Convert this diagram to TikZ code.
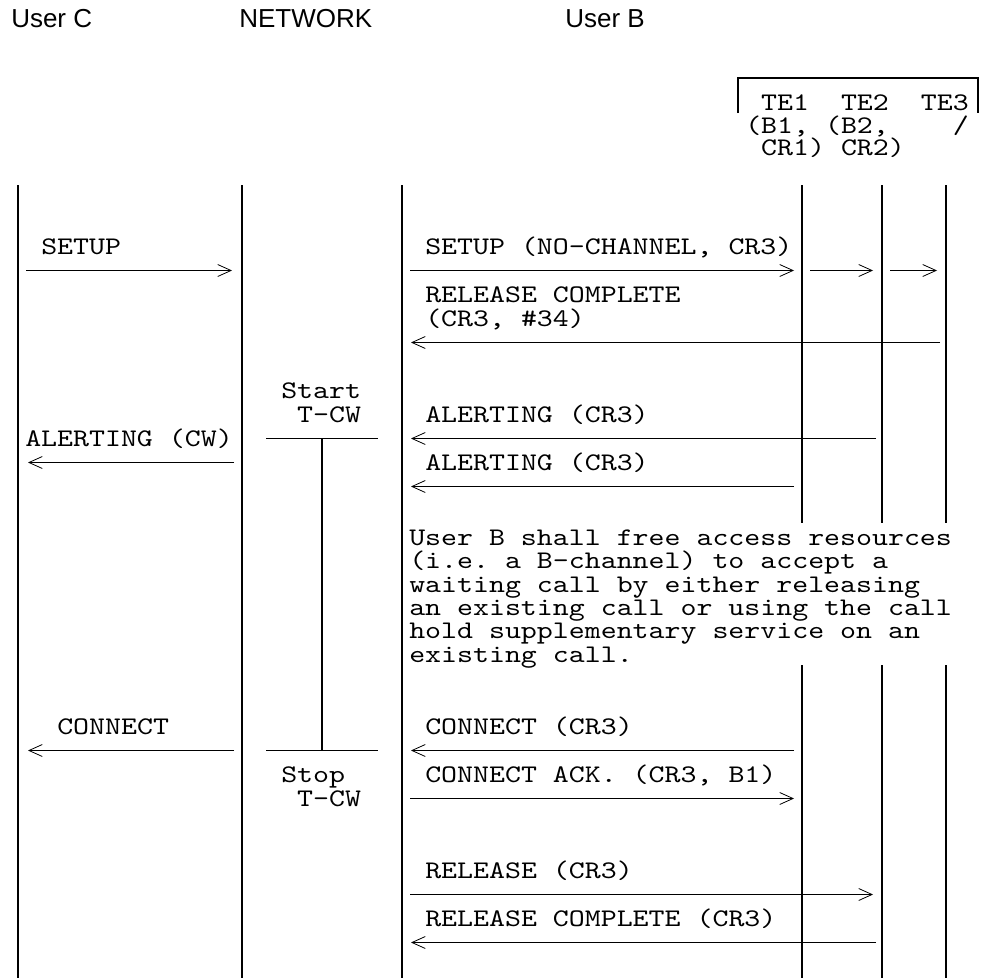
\documentclass[tikz,border=0pt]{standalone}
\usepackage{fontspec}
\setmainfont{Liberation Sans}
\setmonofont{lmmono10-regular.otf}[FakeStretch=1.2]
\usetikzlibrary{arrows.meta, calc}

\newcommand{\msgfont}{\ttfamily\fontsize{19}{18}\selectfont\frenchspacing\lineskiplimit=-100pt}
\newcommand{\gap}{\hphantom{x}}

\begin{document}
\begin{tikzpicture}[
    x=0.75pt, y=-0.75pt,
    life/.style={line width=1.2pt},
    msg/.style={line width=1.2pt, -{Straight Barb[length=10pt, width=9pt, line width=0.6pt]}},
    head/.style={font=\fontsize{19.5}{22}\selectfont, anchor=base west, inner sep=0pt},
    msgtext/.style={font=\msgfont, anchor=base west, inner sep=0pt, align=left, yshift=-5.8pt}
]
\useasboundingbox (0,0) rectangle (982,978);

% Headings
\node (hC) [head] at (11,27) {User C};
\node (hN) [head] at (239,27) {NETWORK};
\node (hB) [head] at (565,27) {User B};

% Terminals of user B (multi-line nodes sit on their last line)
\node (te) [msgtext, font=\msgfont\fontsize{19}{17}\selectfont] at (745,148)
    {\gap TE1\gap\gap TE2\gap\gap TE3\\(B1, (B2,\gap\gap\gap\gap/\\\gap CR1) CR2)};
\draw[life] (738,113) -- (738,78) -- (978,78) -- (978,113);

% Lifelines
\coordinate (uc) at (18,185);
\coordinate (net) at (242,185);
\coordinate (ub) at (402,185);
\coordinate (te1) at (802,185);
\coordinate (te2) at (882,185);
\coordinate (te3) at (946,185);
\coordinate (tmr) at (322,185);
\coordinate (bot) at (0,978);
\coordinate (gapA) at (0,523);
\coordinate (gapB) at (0,665);

\foreach \l in {uc, net, ub}
    \draw[life] (\l) -- (\l |- bot);
\foreach \l in {te1, te2, te3} {
    \draw[life] (\l) -- (\l |- gapA);
    \draw[life] (\l |- gapB) -- (\l |- bot);
}

% Rows
\foreach \r in {0,...,29}
    \coordinate (r\r) at (0,246.5+24*\r);

% User C -- network
\node (setupC) [msgtext] at (41,0 |- r0) {SETUP};
\draw[msg] ($(uc |- r1)+(8,0)$) -- ($(net |- r1)+(-10,0)$);
\node (alertC) [msgtext] at (25,0 |- r8) {ALERTING (CW)};
\draw[msg] ($(net |- r9)+(-8,0)$) -- ($(uc |- r9)+(10,0)$);
\node (connC) [msgtext] at (57,0 |- r20) {CONNECT};
\draw[msg] ($(net |- r21)+(-8,0)$) -- ($(uc |- r21)+(10,0)$);

% Timer T-CW
\node (start) [msgtext] at (281,0 |- r7) {Start\\\gap T-CW};
\draw[life] ($(net |- r8)+(24,0)$) -- ($(ub |- r8)+(-24,0)$);
\draw[life] (tmr |- r8) -- (tmr |- r21);
\draw[life] ($(net |- r21)+(24,0)$) -- ($(ub |- r21)+(-24,0)$);
\node (stop) [msgtext] at (281,0 |- r23) {Stop\\\gap T-CW};

% Network -- user B
\node (setupB) [msgtext] at (425,0 |- r0) {SETUP (NO-CHANNEL, CR3)};
\draw[msg] ($(ub |- r1)+(8,0)$) -- ($(te1 |- r1)+(-8,0)$);
\draw[msg] ($(te1 |- r1)+(8,0)$) -- ($(te2 |- r1)+(-9,0)$);
\draw[msg] ($(te2 |- r1)+(8,0)$) -- ($(te3 |- r1)+(-9,0)$);

\node (relc3) [msgtext] at (425,0 |- r3) {RELEASE COMPLETE\\(CR3, \#34)};
\draw[msg] ($(te3 |- r4)+(-6,0)$) -- ($(ub |- r4)+(9,0)$);

\node (alert2) [msgtext] at (425,0 |- r7) {ALERTING (CR3)};
\draw[msg] ($(te2 |- r8)+(-6,0)$) -- ($(ub |- r8)+(9,0)$);
\node (alert1) [msgtext] at (425,0 |- r9) {ALERTING (CR3)};
\draw[msg] ($(te1 |- r10)+(-8,0)$) -- ($(ub |- r10)+(9,0)$);

\node (note) [msgtext, font=\msgfont\fontsize{19}{17.5}\selectfont] at (409,0 |- r17)
    {User B shall free access resources\\(i.e. a B-channel) to accept a\\waiting call by either releasing\\an existing call or using the call\\hold supplementary service on an\\existing call.};

\node (connB) [msgtext] at (425,0 |- r20) {CONNECT (CR3)};
\draw[msg] ($(te1 |- r21)+(-8,0)$) -- ($(ub |- r21)+(9,0)$);
\node (ack) [msgtext] at (425,0 |- r22) {CONNECT ACK. (CR3, B1)};
\draw[msg] ($(ub |- r23)+(8,0)$) -- ($(te1 |- r23)+(-8,0)$);

\node (rel) [msgtext] at (425,0 |- r26) {RELEASE (CR3)};
\draw[msg] ($(ub |- r27)+(8,0)$) -- ($(te2 |- r27)+(-9,0)$);
\node (relc) [msgtext] at (425,0 |- r28) {RELEASE COMPLETE (CR3)};
\draw[msg] ($(te2 |- r29)+(-6,0)$) -- ($(ub |- r29)+(9,0)$);

\end{tikzpicture}
\end{document}
